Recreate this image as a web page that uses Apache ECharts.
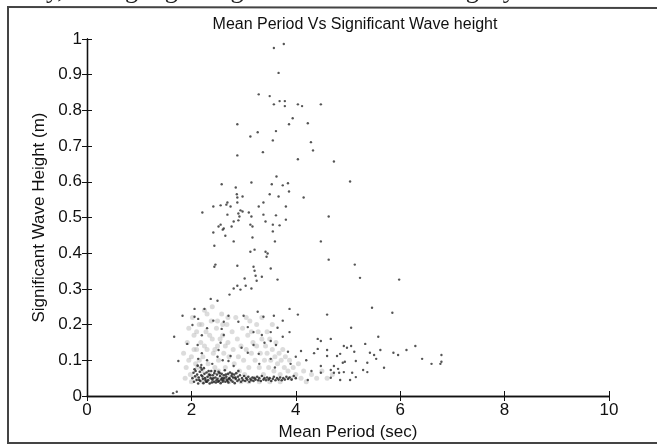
<!DOCTYPE html>
<html>
<head>
<meta charset="utf-8">
<script src="https://cdn.jsdelivr.net/npm/echarts@6/dist/echarts.min.js"></script>
<style>
  html, body { margin: 0; padding: 0; background: #fff; }
  #main { width: 657px; height: 446px; }
</style>
</head>
<body>
<div id="main"></div>
<script>
// axis ticks
var xTicks = [0, 2, 4, 6, 8, 10];
var yTicks = [0, 0.1, 0.2, 0.3, 0.4, 0.5, 0.6, 0.7, 0.8, 0.9, 1];

// scattered black points [period, height]
var blackScatter = [
  [3.58,0.975],[3.77,0.986],[3.67,0.905],[3.29,0.845],[3.5,0.84],[3.69,0.826],[3.79,0.826],[3.58,0.817],[3.79,0.812],[4.04,0.817],[4.12,0.812],[4.48,0.817],[3.94,0.778],[2.88,0.761],[3.87,0.761],[4.23,0.764],[3.27,0.739],[3.13,0.727],[3.62,0.742],[3.56,0.716],[4.29,0.711],[4.33,0.688],[3.37,0.683],[2.88,0.674],[4.04,0.663],[4.73,0.657],
  [5.04,0.601],[3.63,0.615],[3.15,0.598],[2.58,0.593],[2.85,0.584],[3.54,0.593],[3.75,0.59],[3.85,0.596],[3.87,0.573],[2.87,0.565],[2.88,0.556],[2.98,0.559],[3.5,0.565],[3.67,0.559],[4.15,0.556],[2.69,0.542],[2.67,0.536],[2.75,0.531],[2.42,0.531],[2.56,0.534],[2.88,0.542],[3.29,0.531],[3.38,0.542],[3.81,0.531],[2.21,0.514],[2.69,0.508],[2.94,0.52],[2.98,0.517],[2.9,0.511],[3.1,0.514],[2.92,0.503],[3.15,0.503],[3.38,0.508],[3.62,0.506],[4.63,0.503],[3.81,0.494],[2.9,0.492],[2.81,0.489],[2.56,0.48],[2.52,0.475],[3.13,0.48],[3.42,0.489],[3.56,0.48],[3.17,0.475],[2.77,0.475],[2.62,0.469],[2.6,0.466],[2.42,0.458],[2.65,0.449],[3.56,0.461],[3.69,0.478],[2.81,0.433],[3.17,0.444],[3.6,0.433],[4.48,0.433],[2.44,0.421],[3.13,0.404],[3.42,0.404],[3.46,0.399],[3.44,0.39],[3.21,0.41],[4.63,0.382],[5.13,0.368],[2.46,0.368],[2.44,0.362],[2.88,0.365],[3.19,0.362],[3.21,0.351],[3.52,0.357],[3.23,0.337],[3.35,0.334],[3.65,0.326],[5.23,0.331],[3.02,0.329],[3.25,0.323],
  [5.98,0.326],[5.46,0.247],[5.85,0.233],[4.6,0.228],[5.06,0.191],[5.58,0.166],[4.67,0.16],[4.48,0.154],[5.33,0.146],[6.29,0.14],[5.06,0.14],[4.92,0.14],[4.42,0.132],[4.98,0.135],[6.12,0.129],[5.62,0.129],[5.12,0.124],[5.87,0.121],[5.96,0.115],[6.79,0.115],[5.42,0.121],[5.5,0.115],[4.79,0.112],[4.85,0.118],[6.42,0.104],[4.6,0.112],[5.54,0.104],[5.15,0.098],[5.37,0.093],[4.94,0.096],[6.6,0.09],[6.79,0.096],[6.77,0.09],[5.69,0.079],[5.29,0.073],[4.81,0.076],[5.37,0.067],[4.92,0.067],[4.67,0.073],[4.48,0.065],[4.73,0.065],[4.83,0.065],[5.08,0.065],[5.15,0.053],[4.67,0.051],[4.85,0.045],[5.04,0.045],[4.23,0.045],[4.1,0.126],
  [1.83,0.225],[1.67,0.166],[1.75,0.098],[1.92,0.146],[2.06,0.244],[2.25,0.244],[2.06,0.222],[2.02,0.199],[2.13,0.216],[2.42,0.211],[2.12,0.143],[2.13,0.104],[2.19,0.087],[2.56,0.149],[2.52,0.129],[2.5,0.267],[2.37,0.272],[2.73,0.284],[2.81,0.301],[2.88,0.309],[2.94,0.298],[3.04,0.309],[3.15,0.301],[2.71,0.225],[2.62,0.208],[2.9,0.208],[3.0,0.225],[3.27,0.236],[3.38,0.222],[3.58,0.225],[3.88,0.244],[4.04,0.228],[3.75,0.211],[3.08,0.193],[3.19,0.179],[3.35,0.171],[3.52,0.179],[3.65,0.191],[3.88,0.179],[3.4,0.149],[3.52,0.154],[3.62,0.143],[3.75,0.166],[3.19,0.143],[3.08,0.121],[2.96,0.135],[2.75,0.112],[2.71,0.098],[2.81,0.084],[3.85,0.124],[3.29,0.118],[3.52,0.104],[2.62,0.171],[2.58,0.188],[4.42,0.16],[4.6,0.129],[4.48,0.084],[4.73,0.084],[4.9,0.093],
  [1.65,0.008],[1.72,0.012],[2.2,0.12],[2.3,0.1],[2.4,0.09],[2.5,0.11],[2.6,0.1],[2.2,0.17],[2.3,0.19],[3.3,0.09],[3.6,0.08],[3.9,0.09],[4.0,0.11],[4.2,0.1],[4.3,0.07],[4.35,0.12]
];

// dense black band near the bottom
var blackBand = [
  [2.02,0.05],[2.04,0.065],[2.05,0.04],[2.07,0.055],[2.08,0.07],[2.1,0.045],[2.11,0.06],[2.13,0.035],[2.14,0.052],[2.16,0.068],[2.17,0.042],[2.19,0.058],[2.2,0.074],[2.22,0.048],[2.23,0.036],[2.25,0.062],[2.26,0.05],[2.28,0.04],[2.29,0.066],[2.31,0.054],[2.32,0.044],[2.34,0.06],[2.35,0.035],[2.37,0.05],[2.38,0.07],[2.4,0.046],[2.41,0.058],[2.43,0.04],[2.44,0.064],[2.46,0.052],[2.47,0.038],[2.49,0.06],[2.5,0.048],[2.52,0.068],[2.53,0.042],[2.55,0.056],[2.56,0.036],[2.58,0.062],[2.59,0.05],[2.61,0.044],[2.62,0.058],[2.64,0.072],[2.65,0.04],[2.67,0.054],[2.68,0.046],[2.7,0.062],[2.71,0.038],[2.73,0.05],[2.74,0.066],[2.76,0.044],[2.77,0.056],[2.79,0.04],[2.8,0.052],[2.82,0.06],[2.83,0.036],[2.85,0.048],[2.86,0.064],[2.88,0.042],[2.89,0.054],[2.91,0.046],[2.93,0.058],[2.95,0.04],[2.97,0.05],[2.99,0.044],[3.01,0.056],[3.03,0.042],[3.05,0.05],[3.07,0.046],[3.09,0.054],[3.11,0.04],[3.13,0.048],[3.15,0.044],[3.17,0.052],[3.19,0.042],[3.21,0.05],[3.23,0.046],[3.26,0.054],[3.28,0.044],[3.3,0.05],[3.33,0.042],[3.35,0.056],[3.38,0.046],[3.4,0.05],[3.43,0.044],[3.45,0.052],[3.48,0.046],[3.5,0.05],[3.53,0.042],[3.56,0.048],[3.58,0.054],[3.61,0.044],[3.64,0.05],[3.67,0.046],[3.7,0.052],[3.73,0.044],[3.76,0.05],[3.79,0.046],[3.82,0.054],[3.85,0.048],[3.88,0.052],[3.92,0.046],[3.96,0.056],[4.0,0.05],
  [2.06,0.075],[2.12,0.085],[2.18,0.08],[2.24,0.078],[2.3,0.04],[2.36,0.058],[2.42,0.05],[2.48,0.044],[2.54,0.064],[2.6,0.04],[2.66,0.06],[2.72,0.048],[2.78,0.062],[2.84,0.052],[2.9,0.07],[2.15,0.045],[2.21,0.055],[2.27,0.045],[2.33,0.07],[2.39,0.038],[2.45,0.07],[2.51,0.04],[2.57,0.046],[2.63,0.05],[2.69,0.042]
];

// light grey cloud
var greyCloud = [
  [1.85,0.12],[1.9,0.08],[1.92,0.15],[1.95,0.19],[1.98,0.06],[2.0,0.11],[2.02,0.22],[2.05,0.17],[2.08,0.09],[2.1,0.13],[2.12,0.05],[2.15,0.2],[2.18,0.15],[2.2,0.07],[2.22,0.11],[2.25,0.24],[2.28,0.18],[2.3,0.13],[2.32,0.09],[2.35,0.06],[2.38,0.21],[2.4,0.16],[2.42,0.12],[2.45,0.08],[2.48,0.19],[2.5,0.14],[2.52,0.1],[2.55,0.05],[2.58,0.23],[2.6,0.17],[2.62,0.12],[2.65,0.08],[2.68,0.2],[2.7,0.15],[2.72,0.11],[2.75,0.06],[2.78,0.18],[2.8,0.13],[2.82,0.09],[2.85,0.22],[2.88,0.16],[2.9,0.11],[2.92,0.07],[2.95,0.14],[2.98,0.19],[2.15,0.1],[2.25,0.14],[2.35,0.17],[2.45,0.13],[2.55,0.16],[2.65,0.14],[2.05,0.13],[2.1,0.18],[2.2,0.2],[2.3,0.23],[2.4,0.25],[2.5,0.21],[2.6,0.2],[2.7,0.22],[2.12,0.08],[2.22,0.04],[2.32,0.05],[2.42,0.04],[2.52,0.07],[2.62,0.05],[2.72,0.04],[2.82,0.05],[1.95,0.1],[2.0,0.04],[1.88,0.05],
  [3.0,0.1],[3.02,0.06],[3.05,0.13],[3.08,0.17],[3.1,0.08],[3.12,0.21],[3.15,0.12],[3.18,0.15],[3.2,0.05],[3.22,0.1],[3.25,0.14],[3.28,0.18],[3.3,0.08],[3.32,0.12],[3.35,0.16],[3.38,0.06],[3.4,0.1],[3.42,0.14],[3.45,0.12],[3.48,0.08],[3.5,0.16],[3.52,0.1],[3.55,0.13],[3.58,0.07],[3.6,0.11],[3.62,0.15],[3.65,0.09],[3.68,0.12],[3.7,0.06],[3.72,0.1],[3.75,0.13],[3.78,0.08],[3.8,0.11],[3.85,0.07],[3.88,0.1],[3.9,0.05],[3.95,0.08],[4.0,0.06],[4.05,0.09],[4.1,0.05],[4.15,0.07],[4.2,0.04],[4.3,0.06],[4.4,0.05],[4.5,0.07],[4.6,0.05],[4.7,0.06],[3.25,0.2],[3.35,0.22],[3.45,0.18],[3.55,0.2],[3.15,0.18],[3.05,0.22],[3.1,0.04],[3.3,0.04],[3.5,0.04],[3.7,0.04],[2.95,0.04]
];

var font = "'Liberation Sans', Arial, sans-serif";
var myChart = echarts.init(document.getElementById("main"));

var option = {
  backgroundColor: "#fff",
  animation: false,
  title: {
    text: "Mean Period Vs Significant Wave height",
    left: 350,
    textAlign: "center",
    top: 12,
    textStyle: { fontFamily: font, fontSize: 16, fontWeight: "normal", color: "#111" }
  },
  grid: { left: 87, right: 48, top: 39, bottom: 50 },
  xAxis: [
    {
      type: "value",
      min: xTicks[0],
      max: xTicks[xTicks.length - 1],
      interval: 2,
      name: "Mean Period (sec)",
      nameLocation: "middle",
      nameGap: 25,
      nameTextStyle: { fontFamily: font, fontSize: 17, color: "#111" },
      axisLine: { lineStyle: { color: "#111", width: 1.3 } },
      axisTick: { inside: true, length: 5, lineStyle: { color: "#111" } },
      axisLabel: { fontFamily: font, fontSize: 17, color: "#111", margin: 6 },
      splitLine: { show: false }
    },
    {
      type: "value",
      position: "top",
      min: xTicks[0],
      max: xTicks[xTicks.length - 1],
      interval: 2,
      axisLine: { lineStyle: { color: "#111", width: 1.3 } },
      axisTick: { inside: true, length: 5, lineStyle: { color: "#111" } },
      axisLabel: { show: false },
      splitLine: { show: false }
    }
  ],
  yAxis: [
    {
      type: "value",
      min: yTicks[0],
      max: yTicks[yTicks.length - 1],
      interval: 0.1,
      name: "Significant Wave Height (m)",
      nameLocation: "middle",
      nameGap: 39,
      nameTextStyle: { fontFamily: font, fontSize: 17, color: "#111" },
      axisLine: { lineStyle: { color: "#111", width: 1.3 } },
      axisTick: { inside: true, length: 5, lineStyle: { color: "#111" } },
      axisLabel: { fontFamily: font, fontSize: 17, color: "#111", margin: 5 },
      splitLine: { show: false }
    },
    {
      type: "value",
      position: "right",
      min: yTicks[0],
      max: yTicks[yTicks.length - 1],
      interval: 0.1,
      axisLine: { lineStyle: { color: "#111", width: 1.3 } },
      axisTick: { inside: true, length: 5, lineStyle: { color: "#111" } },
      axisLabel: { show: false },
      splitLine: { show: false }
    }
  ],
  graphic: [
    {
      type: "text",
      left: 30,
      top: -22,
      style: {
        text: "rly, during high range while the rain during Cyclone",
        font: "26px 'Liberation Serif', serif",
        fill: "#222"
      }
    },
    { type: "line", shape: { x1: 7, y1: 7, x2: 657, y2: 8 }, style: { stroke: "#444", lineWidth: 2 } },
    { type: "line", shape: { x1: 8, y1: 7, x2: 8, y2: 443 }, style: { stroke: "#444", lineWidth: 2 } },
    { type: "line", shape: { x1: 7, y1: 443, x2: 657, y2: 443 }, style: { stroke: "#444", lineWidth: 2 } }
  ],
  series: [
    {
      name: "grey",
      type: "scatter",
      symbolSize: 5,
      itemStyle: { color: "rgba(175,175,175,0.55)" },
      data: greyCloud
    },
    {
      name: "band",
      type: "scatter",
      symbolSize: 2.6,
      itemStyle: { color: "#1a1a1a" },
      data: blackBand
    },
    {
      name: "scatter",
      type: "scatter",
      symbolSize: 2.4,
      itemStyle: { color: "#2a2a2a" },
      data: blackScatter
    }
  ]
};

myChart.setOption(option);
</script>
</body>
</html>
